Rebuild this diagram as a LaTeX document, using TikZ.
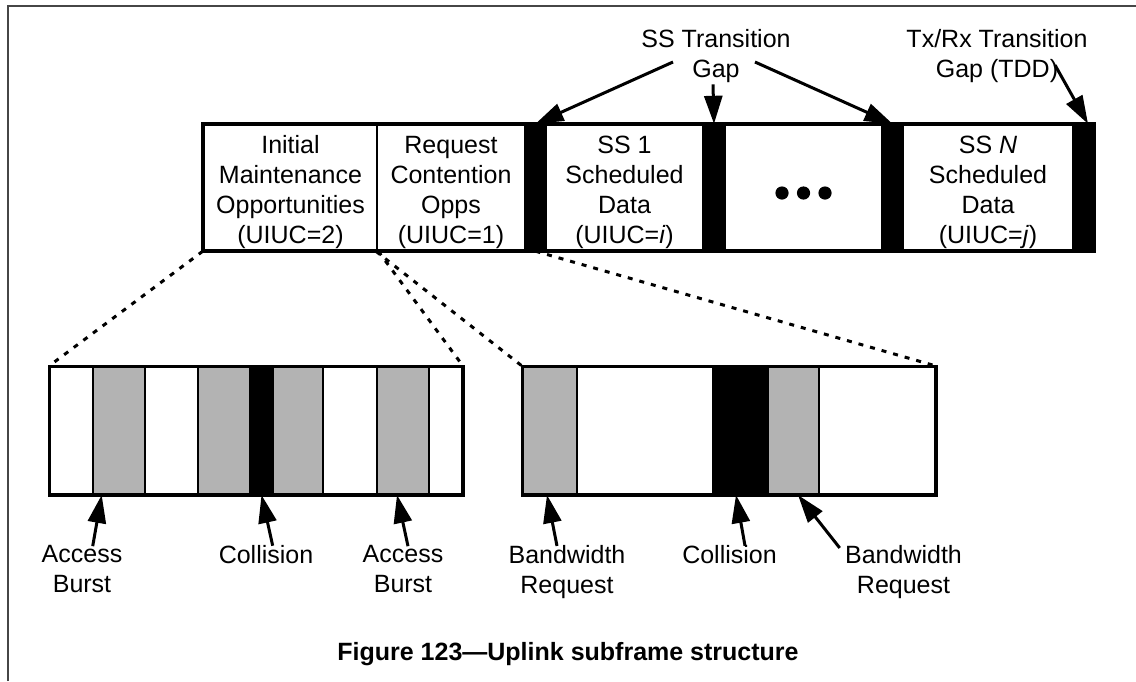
\documentclass[tikz,border=0pt]{standalone}
\usepackage{fontspec}
\setmainfont{Liberation Sans}
\usetikzlibrary{arrows.meta}
\definecolor{slotgray}{RGB}{179,179,179}
\definecolor{framegray}{RGB}{70,70,70}

\begin{document}
\begin{tikzpicture}[x=0.5pt,y=-0.5pt,
  cell/.style={draw, line width=1.2pt, minimum height=62.5pt, inner sep=0pt},
  gapcell/.style={cell, fill=black},
  slot/.style={draw, line width=1pt, minimum height=63.5pt, inner sep=0pt},
  grayslot/.style={slot, fill=slotgray},
  blackslot/.style={slot, fill=black},
  txt/.style={align=center, inner sep=0pt, font=\fontsize{12.5}{15}\selectfont},
  captxt/.style={inner sep=0pt, font=\fontsize{12.5}{15}\selectfont\bfseries},
  arr/.style={line width=1.5pt, -{Triangle[length=14pt,width=9pt]}},
  zoomline/.style={line width=1.5pt, dash pattern=on 2.5pt off 3.5pt},
  frameline/.style={draw=framegray, line width=1pt}
]
\useasboundingbox (0,0) rectangle (1136,681);
\draw[frameline] (8,681) -- (8,6) -- (1136,6);

% ---- uplink subframe ----
\node[cell, minimum width=86.5pt] (im) at (290.5,187.5) {};
\node[cell, minimum width=74pt]   (rc) at (451,187.5) {};
\node[gapcell, minimum width=10.5pt] (g1) at (535.5,187.5) {};
\node[cell, minimum width=78.5pt] (s1) at (624.5,187.5) {};
\node[gapcell, minimum width=11pt] (g2) at (714,187.5) {};
\node[cell, minimum width=78.5pt] (dt) at (803.5,187.5) {};
\node[gapcell, minimum width=10.5pt] (g3) at (892.5,187.5) {};
\node[cell, minimum width=85pt]   (sn) at (988,187.5) {};
\node[gapcell, minimum width=10pt] (g4) at (1083,187.5) {};
\draw[line width=1.5pt] (im.north west) rectangle (g4.south east);

\node[txt] (imt) at ([shift={(0,4.5)}]im.center) {Initial\\Maintenance\\Opportunities\\(UIUC=2)};
\node[txt] (rct) at ([shift={(0,4.5)}]rc.center) {Request\\Contention\\Opps\\(UIUC=1)};
\node[txt] (s1t) at ([shift={(0,4.5)}]s1.center) {SS 1\\Scheduled\\Data\\(UIUC=\textit{i})};
\node[txt] (snt) at ([shift={(0,4.5)}]sn.center) {SS \textit{N}\\Scheduled\\Data\\(UIUC=\textit{j})};
\foreach \dx in {-21.5,0,21.5}
  \fill ([shift={(\dx,5.5)}]dt.center) circle[radius=3.3pt];

% ---- gap labels ----
\node[txt] (sst) at (716,56.4) {SS Transition\\Gap};
\node[txt] (trx) at (997,56.4) {Tx/Rx Transition\\Gap (TDD)};
\draw[arr] ([shift={(-43,5.6)}]sst.center) -- (g1.north);
\draw[arr] ([shift={(-3,1)}]sst.south) -- (g2.north);
\draw[arr] ([shift={(39,5.6)}]sst.center) -- (g3.north);
\draw[arr] ([shift={(58,8.6)}]trx.center) -- ([shift={(5,0)}]g4.north);

% ---- initial maintenance slots ----
\node[slot, minimum width=21.5pt]      (a1) at (71.5,430.5) {};
\node[grayslot, minimum width=26pt]    (a2) at (119,430.5) {};
\node[slot, minimum width=26.5pt]      (a3) at (171.5,430.5) {};
\node[grayslot, minimum width=26pt]    (a4) at (224,430.5) {};
\node[blackslot, minimum width=11.5pt] (a5) at (261.5,430.5) {};
\node[grayslot, minimum width=25pt]    (a6) at (298,430.5) {};
\node[slot, minimum width=27pt]        (a7) at (350,430.5) {};
\node[grayslot, minimum width=26pt]    (a8) at (403,430.5) {};
\node[slot, minimum width=16.5pt]      (a9) at (445.5,430.5) {};
\draw[line width=1.5pt] (a1.north west) rectangle (a9.south east);

% ---- request contention slots ----
\node[grayslot, minimum width=27pt]    (b1) at (550,430.5) {};
\node[slot, minimum width=68pt]        (b2) at (645,430.5) {};
\node[blackslot, minimum width=27.5pt] (b3) at (740.5,430.5) {};
\node[grayslot, minimum width=25.5pt]  (b4) at (793.5,430.5) {};
\node[slot, minimum width=58pt]        (b5) at (877,430.5) {};
\draw[line width=1.5pt] (b1.north west) rectangle (b5.south east);

% ---- expansion lines ----
\draw[zoomline] (im.south west) -- (a1.north west);
\draw[zoomline] (im.south east) -- (a9.north east);
\draw[zoomline] (rc.south west) -- (b1.north west);
\draw[zoomline] (g1.south) -- (b5.north east);

% ---- slot labels ----
\node[txt] (ab1) at (82,569.3)    {Access\\Burst};
\node[txt] (cl1) at (266,554.3)   {Collision};
\node[txt] (ab2) at (403,569.3)   {Access\\Burst};
\node[txt] (bw1) at (567,572)     {Bandwidth\\Request};
\node[txt] (cl2) at (729.5,554.3) {Collision};
\node[txt] (bw2) at (903.5,572)   {Bandwidth\\Request};

\draw[arr] ([shift={(10.7,1)}]ab1.north) -- ([shift={(-17.3,0)}]a2.south);
\draw[arr] ([shift={(6.7,1)}]cl1.north)  -- (a5.south);
\draw[arr] ([shift={(5,1)}]ab2.north)    -- ([shift={(-6,0)}]a8.south);
\draw[arr] ([shift={(-10,1)}]bw1.north)  -- ([shift={(-3,0)}]b1.south);
\draw[arr] ([shift={(15.5,1)}]cl2.north) -- ([shift={(-4.5,0)}]b3.south);
\draw[arr] ([shift={(-5,3)}]bw2.north west) -- ([shift={(4.5,0)}]b4.south);

% ---- caption ----
\node[captxt, anchor=base] (cap) at (568,660) {Figure 123—Uplink subframe structure};
\end{tikzpicture}
\end{document}
